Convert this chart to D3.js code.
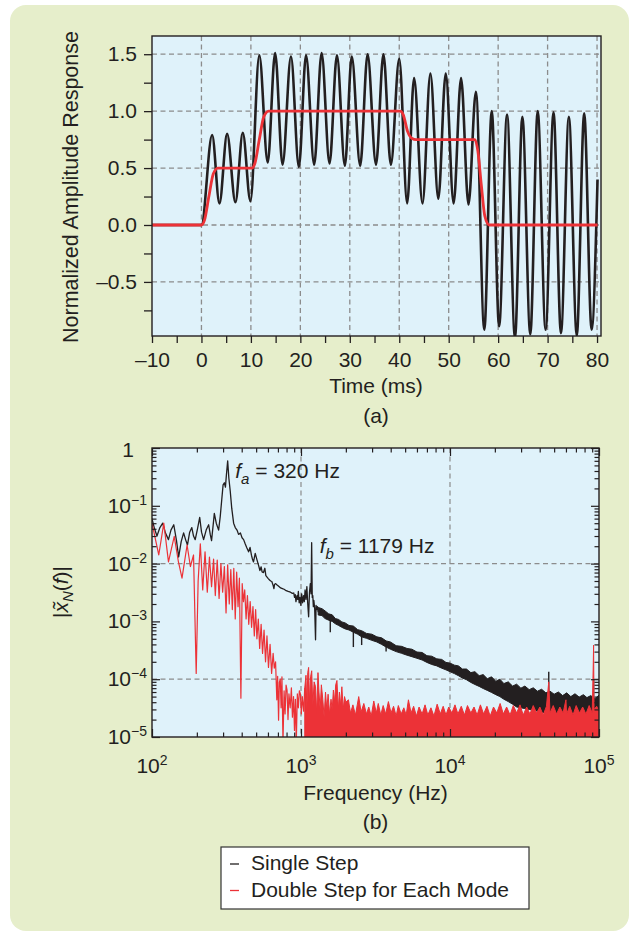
<!DOCTYPE html>
<html>
<head>
<meta charset="utf-8">
<script src="https://cdn.jsdelivr.net/npm/d3@7"></script>
<style>
body { margin: 0; background: #fff; }
text { font-family: "Liberation Sans", Arial, sans-serif; fill: #231f20; }
</style>
</head>
<body>
<div id="chart"></div>
<script>
// ---- (a) time response: [ms, normalized amplitude]
// single step: the turning points of the ringing
var singleStep = [[-10,0],[0,0],[2.16,0.79],[3.64,0.19],[5.19,0.80],[6.87,0.20],[8.36,0.81],[9.9,0.21],
  [11.7,1.49],[13.4,0.55],[14.9,1.51],[16.4,0.53],[18.1,1.48],[19.7,0.51],[21.15,1.49],[22.8,0.53],
  [24.3,1.51],[25.9,0.54],[27.4,1.49],[29.0,0.52],[30.4,1.48],[32.1,0.52],[33.6,1.50],[35.3,0.53],
  [36.8,1.50],[38.3,0.53],[40.0,1.46],[41.6,0.19],[43.0,1.29],[44.7,0.19],[46.3,1.33],[47.9,0.23],
  [49.4,1.33],[51.0,0.19],[52.5,1.29],[54.0,0.18],[55.5,1.17],[57.2,-0.92],[58.7,1.00],[60.2,-0.89],
  [61.8,0.97],[63.4,-0.99],[64.9,0.95],[66.5,-0.96],[68.0,1.00],[69.6,-0.92],[71.2,0.99],[72.7,-0.95],
  [74.3,0.95],[75.9,-0.97],[77.4,0.98],[78.9,-0.92],[80.1,0.40]];
// double step for each mode
var doubleStep = [[-10,0],[0,0],[0.6,0.04],[1.5,0.25],[2.4,0.45],[3.3,0.5],[10.2,0.5],[10.8,0.54],
  [11.7,0.75],[12.6,0.95],[13.6,1.0],[40.2,1.0],[40.8,0.97],[41.7,0.82],[42.6,0.76],[43.4,0.75],
  [55.3,0.75],[55.9,0.65],[56.6,0.35],[57.3,0.08],[58.2,0.0],[80.1,0.0]];

var timeTicks = d3.range(-10, 81, 5);
var timeGrid = [0, 10, 20, 30, 40, 50, 60, 70, 80];
var ampTicks = [-0.75, -0.5, -0.25, 0, 0.25, 0.5, 0.75, 1, 1.25, 1.5];
var ampGrid = [-0.5, 0, 0.5, 1, 1.5];

// ---- (b) spectrum magnitude: [Hz, |X|]
var singleLow = [[100,6.0e-2],[104,4.0e-2],[108,3.0e-2],[113,4.2e-2],[118,5.0e-2],[123,3.4e-2],[129,2.6e-2],
  [134,3.8e-2],[140,4.7e-2],[146,2.5e-2],[151,1.3e-2],[157,2.4e-2],[163,3.4e-2],[168,2.6e-2],[173,2.1e-2],
  [179,3.5e-2],[185,4.2e-2],[190,3.0e-2],[195,2.6e-2],[202,4.0e-2],[209,6.3e-2],[215,3.5e-2],[222,2.6e-2],
  [231,3.8e-2],[240,4.7e-2],[246,3.2e-2],[251,2.5e-2],[257,4.5e-2],[262,7.4e-2],[270,5.0e-2],[280,3.8e-2],
  [287,6.5e-2],[294,1.3e-1],[300,2.3e-1],[306,2.5e-1],[311,2.1e-1],[316,3.5e-1],[322,6.0e-1],[328,3.0e-1],
  [335,1.8e-1],[343,9.0e-2],[353,5.0e-2],[362,4.2e-2],[372,3.8e-2],[381,3.2e-2],[392,3.4e-2],[402,2.8e-2],
  [412,2.6e-2],[422,2.2e-2],[432,1.9e-2],[445,1.6e-2],[455,1.9e-2],[465,1.4e-2],[472,1.2e-2],[480,1.07e-2],
  [493,1.5e-2],[506,1.17e-2],[518,9.5e-3],[530,7.6e-3],[540,8.8e-3],[548,7.2e-3],[560,7.0e-3],[572,8.3e-3],
  [581,6.2e-3],[590,5.9e-3],[603,5.5e-3],[615,5.2e-3],[626,5.0e-3],[637,4.9e-3],[650,4.2e-3],[658,3.7e-3],
  [665,4.4e-3],[676,4.5e-3],[688,4.3e-3],[705,4.1e-3],[730,3.8e-3],[750,3.7e-3],[770,3.6e-3],[795,3.4e-3],
  [820,3.3e-3],[850,3.2e-3],[875,3.05e-3],[894,3.1e-3],[905,2.6e-3],[915,2.9e-3],[925,2.2e-3],[940,2.8e-3],
  [950,2.4e-3],[960,3.3e-3],[972,2.1e-3],[985,2.6e-3],[998,1.9e-3],[1010,3.0e-3],[1025,2.1e-3],[1040,2.8e-3],
  [1052,2.2e-3],[1065,3.5e-3],[1080,2.4e-3],[1095,4.0e-3],[1110,2.0e-3],[1125,1.2e-3],[1140,3.2e-3],
  [1155,4.5e-3],[1168,3.0e-3],[1179,2.3e-2],[1190,2.6e-3],[1200,2.8e-3],[1210,1.8e-3],[1220,2.3e-3],
  [1235,1.7e-3],[1252,4.8e-4],[1262,1.9e-3],[1275,1.6e-3],[1290,1.8e-3],[1305,1.45e-3]];
// noisy part of the single step: [Hz, low edge, high edge]
var singleBand = [[1305,1.29e-3,1.74e-3],[1383,1.26e-3,1.66e-3],[1450,1.12e-3,1.52e-3],[1533,1.05e-3,1.35e-3],
  [1620,1.0e-3,1.30e-3],[1700,9.1e-4,1.12e-3],[1788,8.5e-4,1.08e-3],[1880,7.9e-4,9.8e-4],[1981,7.4e-4,9.4e-4],
  [2100,7.1e-4,8.5e-4],[2246,6.5e-4,8.3e-4],[2400,6.0e-4,7.2e-4],[2553,5.4e-4,6.9e-4],[2750,5.1e-4,6.2e-4],
  [2990,4.7e-4,6.0e-4],[3230,4.4e-4,5.4e-4],[3476,4.0e-4,5.2e-4],[3725,3.6e-4,4.6e-4],[3985,3.3e-4,4.4e-4],
  [4350,3.0e-4,3.8e-4],[4735,2.8e-4,3.7e-4],[5150,2.6e-4,3.4e-4],[5555,2.45e-4,3.3e-4],[6000,2.3e-4,2.95e-4],
  [6500,2.15e-4,2.9e-4],[7000,1.95e-4,2.55e-4],[7533,1.8e-4,2.5e-4],[8150,1.7e-4,2.25e-4],[8800,1.55e-4,2.2e-4],
  [9400,1.45e-4,1.95e-4],[10000,1.35e-4,1.9e-4],[10700,1.25e-4,1.75e-4],[11400,1.15e-4,1.7e-4],
  [12100,1.05e-4,1.5e-4],[12900,9.8e-5,1.5e-4],[13800,8.8e-5,1.3e-4],[14700,8.1e-5,1.35e-4],[15700,7.5e-5,1.15e-4],
  [16700,6.9e-5,1.2e-4],[17800,6.4e-5,1.02e-4],[19000,5.9e-5,1.1e-4],[20300,5.4e-5,9.2e-5],[21600,5.0e-5,1.0e-4],
  [23000,4.5e-5,8.4e-5],[24600,4.1e-5,9.0e-5],[26300,3.7e-5,7.6e-5],[28000,3.3e-5,8.2e-5],[29900,3.2e-5,7.0e-5],
  [31800,3.1e-5,7.6e-5],[34000,3.0e-5,6.6e-5],[36200,2.9e-5,7.1e-5],[38600,2.8e-5,6.2e-5],[41200,2.7e-5,6.7e-5],
  [44000,2.6e-5,5.8e-5],[46900,2.6e-5,6.2e-5],[50000,2.5e-5,5.5e-5],[53400,2.45e-5,6.0e-5],[57000,2.4e-5,5.2e-5],
  [60700,2.4e-5,5.8e-5],[64700,2.4e-5,5.0e-5],[69000,2.4e-5,5.6e-5],[73600,2.4e-5,4.9e-5],[78500,2.4e-5,5.4e-5],
  [83000,2.4e-5,4.8e-5],[88000,2.45e-5,5.2e-5],[94000,2.6e-5,4.6e-5],[100000,2.8e-5,5.3e-5]];
// sharp lines off the noisy part: [Hz, from, to]
var singleSpikes = [[1572,1.1e-3,6.5e-4],[2246,6.8e-4,3.6e-4],[2553,5.8e-4,3.9e-4],[3725,4.0e-4,3.0e-4],
  [46000,5.0e-5,1.35e-4],[92000,4.0e-5,1.0e-4]];

var doubleLow = [[100,5.0e-2],[111,1.41e-2],[120,5.0e-2],[129,1.07e-2],[141,2.95e-2],[150,1.12e-2],[159,5.6e-3],
  [172,2.1e-2],[181,8.9e-3],[190,1.41e-2],[198,1.26e-4],[204,5.0e-3],[211,2.2e-2],[219,3.5e-3],[227,1.6e-2],
  [235,3.2e-3],[243,1.3e-2],[251,4.0e-3],[259,1.2e-2],[266,2.8e-3],[274,1.15e-2],[282,2.5e-3],[290,1.0e-2],
  [298,3.2e-3],[306,8.9e-3],[314,1.4e-3],[322,9.5e-3],[330,2.0e-3],[338,7.9e-3],[346,1.6e-3],[354,8.3e-3],
  [362,1.1e-3],[370,7.1e-3],[378,1.8e-3],[386,5.6e-3],[395,4.7e-5],[403,4.5e-3],[411,2.2e-3],[419,3.5e-3],
  [428,1.1e-3],[437,2.8e-3],[446,8.9e-4],[456,2.2e-3],[466,7.9e-4],[476,1.8e-3],[486,5.6e-4],[496,1.6e-3],
  [506,5.0e-4],[517,1.1e-3],[528,3.4e-4],[540,8.9e-4],[552,2.8e-4],[565,7.1e-4],[578,2.0e-4],[591,5.6e-4],
  [605,1.6e-4],[620,4.0e-4],[635,1.26e-4],[650,2.8e-4],[662,1.55e-4],[675,2.0e-4],[688,4.4e-5],[697,1.12e-4],
  [707,1.95e-5],[716,8.9e-5],[726,1.0e-4],[735,3.2e-5],[745,1.1e-4],[757,7.9e-6],[770,6.3e-5],[782,2.5e-5],
  [794,7.9e-5],[806,6.5e-5],[818,2.0e-5],[830,5.6e-5],[846,3.2e-5],[862,7.1e-5],[876,2.2e-5],[891,5.0e-5],
  [904,1.3e-5],[917,4.5e-5],[930,7.9e-6],[945,5.6e-5],[960,3.2e-5],[975,6.3e-5],[990,5.6e-5],[1005,2.5e-5],
  [1020,5.0e-5],[1042,2.8e-5],[1060,7.1e-5]];
// dense noise of the double step: [Hz, top edge] (filled down to the axis)
var doubleBand = [[1060,7.1e-5],[1080,1.17e-4],[1095,3.0e-5],[1110,1.3e-4],[1125,1.6e-4],[1140,4.0e-5],
  [1160,1.1e-4],[1180,1.4e-4],[1200,3.5e-5],[1225,9.0e-5],[1252,7.4e-5],[1275,2.5e-5],[1300,1.3e-4],
  [1320,6.0e-5],[1345,3.0e-5],[1370,8.0e-5],[1400,4.5e-5],[1430,2.2e-5],[1460,6.0e-5],[1490,3.0e-5],
  [1520,5.5e-5],[1555,2.5e-5],[1590,4.5e-5],[1620,3.0e-5],[1650,6.5e-5],[1680,4.0e-5],[1710,8.0e-5],
  [1743,9.5e-5],[1780,3.0e-5],[1810,6.0e-5],[1845,3.5e-5],[1880,7.4e-5],[1920,3.0e-5],[1960,5.0e-5],
  [2000,4.0e-5],[2080,4.4e-5],[2150,2.6e-5],[2230,3.6e-5],[2320,2.4e-5],[2440,5.0e-5],
  [2530,2.7e-5],[2640,3.8e-5],[2750,2.5e-5],[2850,3.3e-5],[2960,2.3e-5],[3080,4.2e-5],[3200,2.6e-5],
  [3300,3.8e-5],[3430,2.4e-5],[3560,3.5e-5],[3700,2.5e-5],[3860,4.1e-5],[4020,2.6e-5],[4180,3.4e-5],
  [4350,2.3e-5],[4500,3.5e-5],[4700,2.5e-5],[4900,3.2e-5],[5080,2.4e-5],[5260,4.4e-5],[5480,2.6e-5],
  [5700,3.4e-5],[5950,2.3e-5],[6200,3.3e-5],[6500,2.5e-5],[6800,3.6e-5],[7100,2.4e-5],[7450,3.2e-5],
  [7800,2.3e-5],[8200,3.7e-5],[8600,2.5e-5],[9000,3.4e-5],[9400,2.4e-5],[9800,3.3e-5],[10300,2.6e-5],
  [10800,3.6e-5],[11300,2.5e-5],[11900,3.4e-5],[12500,2.4e-5],[13100,3.5e-5],[13800,2.6e-5],[14500,3.3e-5],
  [15200,2.4e-5],[16000,3.6e-5],[16800,2.5e-5],[17700,3.4e-5],[18600,2.3e-5],[19600,3.3e-5],[20600,2.6e-5],
  [21700,3.8e-5],[22800,2.5e-5],[24000,3.3e-5],[25300,2.4e-5],[26600,3.5e-5],[28000,2.6e-5],[29500,3.6e-5],
  [31000,2.4e-5],[32700,3.3e-5],[34400,2.5e-5],[36200,3.5e-5],[38100,2.6e-5],[40100,3.3e-5],[42200,2.4e-5],
  [44400,3.4e-5],[46000,9.0e-5],[46900,2.6e-5],[49300,3.5e-5],[51900,2.5e-5],[54600,3.3e-5],[57400,2.6e-5],
  [60000,4.4e-5],[60600,2.5e-5],[63600,3.4e-5],[66900,2.4e-5],[70300,3.5e-5],[73900,2.6e-5],[77700,3.3e-5],
  [81700,2.5e-5],[85900,3.5e-5],[90000,2.6e-5],[91400,1.5e-4],[92000,3.9e-4],[92600,3.0e-5],[96500,3.4e-5],
  [100000,2.8e-5]];

var freqMajor = [1e2, 1e3, 1e4, 1e5];
var magMajor = [1e-5, 1e-4, 1e-3, 1e-2, 1e-1, 1];
var freqGrid = [1e3, 1e4];
var magGrid = [1e-2, 1e-4];

var seriesNames = ["Single Step", "Double Step for Each Mode"];
var ink = "#231f20", red = "#ec3237", gridColor = "#8c8c8c";

var svg = d3.select("#chart").append("svg")
    .attr("width", 639)
    .attr("height", 937);

// green panel behind everything
svg.append("rect")
    .attr("x", 10).attr("y", 5).attr("width", 619).attr("height", 926).attr("rx", 16)
    .attr("fill", "#e6eecb");

var dash = function(s) { return s.replace("-", "\u2013").replace("\u2212", "\u2013"); };

// ================= (a) =================
var xa = d3.scaleLinear().domain([-10, 80.8]).range([152, 601]);
var ya = d3.scaleLinear().domain([-0.975, 1.66]).range([336, 36]);

svg.append("clipPath").attr("id", "clipA").append("rect")
    .attr("x", 152).attr("y", 36).attr("width", 449).attr("height", 300);

svg.append("rect")
    .attr("x", 152).attr("y", 36).attr("width", 449).attr("height", 300)
    .attr("fill", "#dff2fa");

svg.selectAll("line.vgridA").data(timeGrid).enter().append("line")
    .attr("class", "vgridA")
    .attr("x1", function(d) { return xa(d); }).attr("x2", function(d) { return xa(d); })
    .attr("y1", 36).attr("y2", 336);
svg.selectAll("line.hgridA").data(ampGrid).enter().append("line")
    .attr("class", "hgridA")
    .attr("x1", 152).attr("x2", 601)
    .attr("y1", function(d) { return ya(d); }).attr("y2", function(d) { return ya(d); });
svg.selectAll("line.vgridA, line.hgridA")
    .attr("stroke", gridColor).attr("stroke-width", 1.3).attr("stroke-dasharray", "5,3.5");

var lineA = d3.line()
    .x(function(d) { return xa(d[0]); })
    .y(function(d) { return ya(d[1]); })
    .curve(d3.curveMonotoneX);

var plotA = svg.append("g").attr("clip-path", "url(#clipA)");
plotA.append("path").datum(singleStep)
    .attr("d", lineA).attr("fill", "none").attr("stroke", ink).attr("stroke-width", 2.6);
plotA.append("path").datum(doubleStep)
    .attr("d", lineA).attr("fill", "none").attr("stroke", red).attr("stroke-width", 2.8);

svg.append("rect")
    .attr("x", 152).attr("y", 36).attr("width", 449).attr("height", 300)
    .attr("fill", "none").attr("stroke", ink).attr("stroke-width", 1.4);

var axA = svg.append("g").attr("transform", "translate(0,336)")
    .call(d3.axisBottom(xa).tickValues(timeTicks).tickSize(7).tickPadding(9)
        .tickFormat(function(d) { return d % 10 === 0 ? dash(String(d)) : ""; }));
var ayA = svg.append("g").attr("transform", "translate(152,0)")
    .call(d3.axisLeft(ya).tickValues(ampTicks).tickSize(8).tickPadding(7)
        .tickFormat(function(d) { return d * 2 === Math.round(d * 2) ? dash(d3.format(".1f")(d)) : ""; }));
[axA, ayA].forEach(function(g) {
    g.select(".domain").remove();
    g.attr("font-size", 21).attr("font-family", null).attr("color", ink);
    g.selectAll(".tick line").attr("stroke-width", 1.3);
});

svg.append("text")
    .attr("x", 376).attr("y", 393).attr("text-anchor", "middle").attr("font-size", 21)
    .text("Time (ms)");
svg.append("text")
    .attr("x", 376).attr("y", 423).attr("text-anchor", "middle").attr("font-size", 21)
    .text("(a)");
svg.append("text")
    .attr("transform", "translate(78,187) rotate(-90)")
    .attr("text-anchor", "middle").attr("font-size", 21.5)
    .text("Normalized Amplitude Response");

// ================= (b) =================
var xb = d3.scaleLog().domain([1e2, 1e5]).range([152, 599]);
var yb = d3.scaleLog().domain([1e-5, 1]).range([737, 448]);
var isMajor = function(d) { var e = Math.log10(d); return Math.abs(e - Math.round(e)) < 1e-6; };

svg.append("clipPath").attr("id", "clipB").append("rect")
    .attr("x", 152).attr("y", 448).attr("width", 447).attr("height", 289);

svg.append("rect")
    .attr("x", 152).attr("y", 448).attr("width", 447).attr("height", 289)
    .attr("fill", "#dff2fa");

svg.selectAll("line.vgridB").data(freqGrid).enter().append("line")
    .attr("class", "vgridB")
    .attr("x1", function(d) { return xb(d); }).attr("x2", function(d) { return xb(d); })
    .attr("y1", 448).attr("y2", 737);
svg.selectAll("line.hgridB").data(magGrid).enter().append("line")
    .attr("class", "hgridB")
    .attr("x1", 152).attr("x2", 599)
    .attr("y1", function(d) { return yb(d); }).attr("y2", function(d) { return yb(d); });
svg.selectAll("line.vgridB, line.hgridB")
    .attr("stroke", gridColor).attr("stroke-width", 1.2).attr("stroke-dasharray", "5,3.5");

var lineB = d3.line()
    .x(function(d) { return xb(d[0]); })
    .y(function(d) { return yb(d[1]); });
var bandB = d3.area()
    .x(function(d) { return xb(d[0]); })
    .y0(function(d) { return yb(d[1]); })
    .y1(function(d) { return yb(d[2]); });
var floorB = d3.area()
    .x(function(d) { return xb(d[0]); })
    .y0(yb(yb.domain()[0]))
    .y1(function(d) { return yb(d[1]); });

var plotB = svg.append("g").attr("clip-path", "url(#clipB)");
// single step
plotB.append("path").datum(singleLow)
    .attr("d", lineB).attr("fill", "none").attr("stroke", ink).attr("stroke-width", 1.3)
    .attr("stroke-linejoin", "round");
plotB.append("path").datum(singleBand)
    .attr("d", bandB).attr("fill", ink).attr("stroke", ink).attr("stroke-width", 1);
plotB.selectAll("line.spikeS").data(singleSpikes).enter().append("line")
    .attr("class", "spikeS")
    .attr("x1", function(d) { return xb(d[0]); }).attr("x2", function(d) { return xb(d[0]); })
    .attr("y1", function(d) { return yb(d[1]); }).attr("y2", function(d) { return yb(d[2]); })
    .attr("stroke", ink).attr("stroke-width", 1.4);
// double step
plotB.append("path").datum(doubleLow)
    .attr("d", lineB).attr("fill", "none").attr("stroke", red).attr("stroke-width", 1.2)
    .attr("stroke-linejoin", "round");
plotB.append("path").datum(doubleBand)
    .attr("d", floorB).attr("fill", red).attr("stroke", red).attr("stroke-width", 1);

svg.append("rect")
    .attr("x", 152).attr("y", 448).attr("width", 447).attr("height", 289)
    .attr("fill", "none").attr("stroke", ink).attr("stroke-width", 1.4);

// ticks point inward on all four sides, decades longer
var fTicks = xb.ticks(), mTicks = yb.ticks();
var sides = [
    { axis: d3.axisBottom(xb).tickValues(fTicks), at: "translate(0,737)", attr: "y2", sign: -1 },
    { axis: d3.axisTop(xb).tickValues(fTicks), at: "translate(0,448)", attr: "y2", sign: 1 },
    { axis: d3.axisLeft(yb).tickValues(mTicks), at: "translate(152,0)", attr: "x2", sign: 1 },
    { axis: d3.axisRight(yb).tickValues(mTicks), at: "translate(599,0)", attr: "x2", sign: -1 }
];
sides.forEach(function(s) {
    var g = svg.append("g").attr("transform", s.at)
        .call(s.axis.tickFormat(""));
    g.select(".domain").remove();
    g.attr("color", ink);
    g.selectAll(".tick line")
        .attr(s.attr, function(d) { return s.sign * (isMajor(d) ? 8 : 4.5); })
        .attr("stroke-width", 1.2);
});

var powLabel = function(sel, exp) {
    sel.append("tspan").text("10");
    sel.append("tspan").attr("font-size", 14).attr("dy", -8)
        .text(exp < 0 ? "\u2212" + (-exp) : String(exp));
};

svg.selectAll("text.flab").data(freqMajor).enter().append("text")
    .attr("class", "flab")
    .attr("x", function(d) { return xb(d); }).attr("y", 773)
    .attr("text-anchor", "middle").attr("font-size", 21)
    .each(function(d) { powLabel(d3.select(this), Math.round(Math.log10(d))); });

svg.selectAll("text.mlab").data(magMajor).enter().append("text")
    .attr("class", "mlab")
    .attr("x", function(d) { return d === 1 ? 134 : 147; })
    .attr("y", function(d) { return yb(d) + (d === 1 ? 9 : 7); })
    .attr("text-anchor", "end").attr("font-size", 21)
    .each(function(d) {
        if (d === 1) d3.select(this).text("1");
        else powLabel(d3.select(this), Math.round(Math.log10(d)));
    });

svg.append("text")
    .attr("x", 375.5).attr("y", 800).attr("text-anchor", "middle").attr("font-size", 21)
    .text("Frequency (Hz)");
svg.append("text")
    .attr("x", 375.5).attr("y", 829).attr("text-anchor", "middle").attr("font-size", 21)
    .text("(b)");

var ylab = svg.append("text")
    .attr("transform", "translate(68,592) rotate(-90)")
    .attr("text-anchor", "middle").attr("font-size", 21);
ylab.append("tspan").text("|");
ylab.append("tspan").attr("font-style", "italic").text("x\u0303");
ylab.append("tspan").attr("font-style", "italic").attr("font-size", 15).attr("dy", 5).text("N");
ylab.append("tspan").attr("dy", -5).text("(");
ylab.append("tspan").attr("font-style", "italic").text("f");
ylab.append("tspan").text(")|");

// peak annotations
var peaks = [{ f: 320, sub: "a", text: " = 320 Hz", y: 478 }, { f: 1179, sub: "b", text: " = 1179 Hz", y: 553 }];
peaks.forEach(function(p) {
    var t = svg.append("text")
        .attr("x", xb(p.f) + 8).attr("y", p.y).attr("font-size", 21);
    t.append("tspan").attr("font-style", "italic").text("f");
    t.append("tspan").attr("font-style", "italic").attr("font-size", 15).attr("dy", 6).text(p.sub);
    t.append("tspan").attr("dy", -6).text(p.text);
});

// legend
svg.append("rect")
    .attr("x", 221).attr("y", 847).attr("width", 308).attr("height", 62)
    .attr("fill", "#fff").attr("stroke", "#333").attr("stroke-width", 1.2);
var legend = svg.selectAll("g.leg").data(seriesNames).enter().append("g")
    .attr("class", "leg")
    .attr("transform", function(d, i) { return "translate(230," + (870 + i * 26.5) + ")"; });
legend.append("line")
    .attr("x1", 0).attr("x2", 9).attr("y1", -6).attr("y2", -6)
    .attr("stroke", function(d, i) { return i ? red : ink; }).attr("stroke-width", 1.3);
legend.append("text")
    .attr("x", 21).attr("font-size", 21)
    .text(function(d) { return d; });
</script>
</body>
</html>
